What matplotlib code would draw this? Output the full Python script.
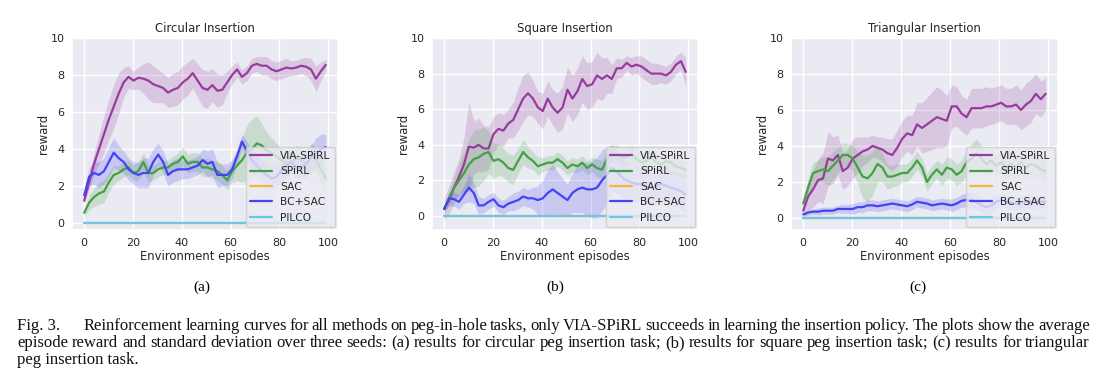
"""
Reinforcement learning curves on peg-in-hole tasks (three panels + caption)
"""
import numpy as np
import matplotlib
matplotlib.use('Agg')
import matplotlib.pyplot as plt
import seaborn as sns

# episodes (read roughly every 2 episodes off the picture)
episodes = np.linspace(0, 99, 50)

# ---- circular insertion ----
circ_via = [1.2, 2.2, 3.2, 4.0, 4.8, 5.6, 6.3, 7.0, 7.6, 7.9,
            7.7, 7.85, 7.8, 7.7, 7.5, 7.4, 7.3, 7.05, 7.2, 7.3,
            7.6, 7.8, 8.1, 7.7, 7.3, 7.2, 7.45, 7.15, 7.2, 7.6,
            8.0, 8.3, 7.9, 8.1, 8.5, 8.6, 8.5, 8.5, 8.3, 8.2,
            8.3, 8.4, 8.35, 8.4, 8.5, 8.45, 8.3, 7.8, 8.2, 8.55]
circ_via_std = [0.2, 0.4, 0.6, 0.8, 1.0, 1.1, 1.2, 1.1, 0.8, 0.6,
                0.5, 0.6, 0.8, 1.0, 1.0, 0.9, 0.8, 0.8, 0.9, 0.9,
                0.9, 0.9, 0.8, 0.9, 1.0, 1.0, 0.9, 0.9, 0.8, 0.6,
                0.5, 0.4, 0.4, 0.4, 0.4, 0.4, 0.5, 0.5, 0.5, 0.5,
                0.5, 0.5, 0.4, 0.4, 0.4, 0.5, 0.6, 0.7, 0.5, 0.3]
circ_spirl = [0.55, 1.1, 1.4, 1.6, 1.7, 2.2, 2.6, 2.7, 2.9, 3.0,
              2.7, 2.8, 3.3, 2.7, 2.7, 2.9, 3.0, 3.0, 3.2, 3.3,
              3.6, 3.2, 3.3, 3.3, 3.0, 3.0, 2.9, 2.8, 2.6, 2.3,
              2.8, 3.1, 3.4, 3.8, 4.0, 4.3, 4.2, 3.9, 3.8, 3.6,
              3.4, 3.2, 3.3, 3.5, 3.4, 3.2, 3.6, 3.4, 2.9, 2.4]
circ_spirl_std = [0.2, 0.4, 0.5, 0.6, 0.6, 0.5, 0.5, 0.4, 0.4, 0.4,
                  0.4, 0.5, 0.5, 0.5, 0.4, 0.4, 0.4, 0.4, 0.4, 0.5,
                  0.5, 0.5, 0.5, 0.5, 0.5, 0.5, 0.5, 0.5, 0.5, 0.5,
                  0.6, 0.8, 1.2, 1.5, 1.6, 1.5, 1.2, 1.0, 0.8, 0.7,
                  0.7, 0.7, 0.7, 0.7, 0.7, 0.7, 0.7, 0.7, 0.7, 0.7]
circ_bc = [1.5, 2.5, 2.7, 2.6, 2.8, 3.3, 3.8, 3.5, 3.3, 2.9,
           2.7, 2.6, 2.7, 2.7, 3.3, 3.7, 3.3, 2.6, 2.8, 2.9,
           2.9, 2.9, 3.0, 3.1, 3.4, 3.2, 3.3, 2.6, 2.6, 2.6,
           2.9, 3.6, 4.4, 3.9, 3.4, 3.1, 2.8, 2.6, 2.4, 2.5,
           2.8, 3.1, 3.3, 3.0, 3.0, 3.2, 3.5, 3.8, 4.0, 4.1]
circ_bc_std = [0.2, 0.5, 0.6, 0.7, 0.7, 0.8, 0.8, 0.7, 0.6, 0.6,
               0.6, 0.7, 0.8, 0.8, 0.7, 0.6, 0.6, 0.6, 0.6, 0.6,
               0.5, 0.5, 0.5, 0.5, 0.6, 0.7, 0.7, 0.7, 0.6, 0.6,
               0.5, 0.4, 0.4, 0.5, 0.6, 0.6, 0.6, 0.6, 0.6, 0.6,
               0.6, 0.6, 0.6, 0.6, 0.6, 0.7, 0.7, 0.8, 0.8, 0.7]

# ---- square insertion ----
square_via = [0.4, 0.9, 1.6, 2.2, 2.9, 3.9, 3.85, 4.0, 3.8, 3.8,
              4.6, 4.9, 4.8, 5.2, 5.4, 6.0, 6.6, 6.9, 6.6, 6.1,
              5.9, 6.6, 6.1, 5.8, 6.1, 7.1, 6.6, 7.0, 7.7, 7.3,
              7.4, 7.9, 7.7, 7.9, 7.7, 8.3, 8.3, 8.6, 8.4, 8.5,
              8.4, 8.2, 8.0, 8.0, 8.0, 7.9, 8.1, 8.5, 8.7, 8.1]
square_via_std = [0.6, 0.8, 0.9, 1.0, 1.5, 2.5, 1.5, 1.5, 1.3, 1.2,
                  1.0, 0.9, 0.9, 0.8, 1.0, 1.2, 1.3, 1.2, 1.0, 0.9,
                  1.0, 1.0, 1.0, 1.1, 1.2, 1.3, 1.3, 1.3, 1.3, 1.3,
                  1.3, 1.3, 1.2, 1.0, 0.8, 0.6, 0.5, 0.4, 0.5, 0.5,
                  0.6, 0.6, 0.6, 0.6, 0.5, 0.5, 0.5, 0.5, 0.5, 0.8]
square_spirl = [0.4, 1.0, 1.6, 2.0, 2.4, 2.9, 3.2, 3.3, 3.5, 3.6,
                3.1, 3.2, 3.0, 2.7, 2.6, 3.1, 3.6, 3.3, 3.1, 2.8,
                2.9, 3.0, 3.0, 3.2, 3.0, 2.7, 2.9, 2.8, 3.0, 2.7,
                2.9, 2.7, 2.6, 3.2, 3.5, 3.5, 3.3, 3.3, 3.5, 3.2,
                3.0, 3.1, 3.3, 3.0, 2.9, 3.1, 3.0, 2.8, 2.7, 2.6]
square_spirl_std = [0.2, 0.4, 0.6, 0.9, 1.2, 1.4, 1.6, 1.6, 1.5, 1.2,
                    1.0, 0.9, 0.8, 0.8, 0.8, 0.7, 0.7, 0.6, 0.5, 0.5,
                    0.4, 0.4, 0.4, 0.4, 0.4, 0.4, 0.4, 0.4, 0.4, 0.4,
                    0.4, 0.5, 0.5, 0.6, 0.5, 0.5, 0.5, 0.5, 0.5, 0.5,
                    0.5, 0.5, 0.5, 0.5, 0.5, 0.5, 0.5, 0.5, 0.5, 0.5]
square_bc = [0.4, 1.0, 0.95, 0.8, 1.2, 1.6, 1.3, 0.6, 0.6, 0.8,
             0.95, 0.6, 0.5, 0.7, 0.8, 0.9, 1.1, 1.0, 1.0, 0.9,
             1.0, 1.3, 1.5, 1.3, 1.1, 0.9, 1.3, 1.5, 1.6, 1.5,
             1.5, 1.6, 2.0, 2.3, 2.7, 2.5, 2.2, 2.0, 1.9, 1.8,
             1.8, 1.7, 1.6, 1.7, 1.8, 1.7, 1.6, 1.5, 1.4, 1.2]
square_bc_std = [0.2, 0.4, 0.4, 0.4, 0.5, 0.8, 0.6, 0.5, 0.4, 0.4,
                 0.4, 0.4, 0.4, 0.4, 0.5, 0.5, 0.5, 0.5, 0.6, 0.8,
                 1.0, 1.3, 1.4, 1.2, 1.0, 0.9, 1.1, 1.3, 1.4, 1.5,
                 1.6, 1.7, 1.7, 1.6, 1.3, 1.2, 1.1, 1.0, 1.0, 1.0,
                 1.0, 1.0, 1.0, 1.0, 1.0, 1.0, 1.0, 1.0, 1.0, 1.0]

# ---- triangular insertion ----
tri_via = [0.4, 1.2, 1.6, 2.1, 2.2, 3.3, 3.2, 3.5, 2.6, 2.8,
           3.3, 3.5, 3.7, 3.8, 4.0, 3.9, 3.8, 3.6, 3.5, 3.9,
           4.4, 4.7, 4.6, 5.2, 5.0, 5.2, 5.4, 5.6, 5.5, 5.4,
           6.2, 6.2, 5.8, 5.6, 6.1, 6.1, 6.1, 6.2, 6.2, 6.3,
           6.4, 6.2, 6.2, 6.3, 6.0, 6.3, 6.5, 6.9, 6.6, 6.9]
tri_via_std = [0.5, 0.8, 1.0, 1.2, 1.4, 1.5, 1.3, 1.1, 1.0, 1.0,
               1.1, 1.0, 0.8, 0.7, 0.6, 0.6, 0.7, 0.8, 0.9, 1.0,
               1.0, 1.0, 1.1, 1.2, 1.4, 1.5, 1.6, 1.7, 1.6, 1.4,
               1.2, 1.1, 1.0, 1.0, 1.1, 1.1, 1.1, 1.1, 1.0, 1.0,
               1.0, 1.0, 1.0, 1.1, 1.1, 1.2, 1.2, 1.1, 1.0, 0.9]
tri_spirl = [0.8, 1.7, 2.5, 2.6, 2.7, 2.6, 2.9, 3.2, 3.5, 3.5,
             3.3, 2.8, 2.3, 2.2, 2.5, 3.0, 2.8, 2.3, 2.3, 2.4,
             2.5, 2.5, 2.8, 3.2, 2.8, 2.0, 2.4, 2.7, 2.4, 2.8,
             2.7, 2.4, 2.6, 3.1, 3.3, 3.6, 3.3, 3.0, 3.2, 2.9,
             3.1, 2.8, 3.0, 2.8, 3.1, 2.8, 3.0, 2.9, 2.7, 2.6]
tri_spirl_std = [0.3, 0.5, 0.6, 0.6, 0.7, 0.8, 0.8, 0.7, 0.7, 0.6,
                 0.7, 0.9, 1.2, 1.3, 1.2, 1.0, 0.8, 0.7, 0.6, 0.6,
                 0.5, 0.5, 0.5, 0.5, 0.5, 0.5, 0.5, 0.5, 0.6, 0.6,
                 0.6, 0.6, 0.6, 0.7, 0.8, 0.8, 0.7, 0.6, 0.6, 0.6,
                 0.6, 0.6, 0.6, 0.6, 0.6, 0.6, 0.6, 0.6, 0.6, 0.6]
tri_bc = [0.2, 0.3, 0.35, 0.35, 0.4, 0.4, 0.4, 0.5, 0.5, 0.5,
          0.5, 0.6, 0.6, 0.7, 0.7, 0.65, 0.7, 0.75, 0.8, 0.75,
          0.7, 0.65, 0.75, 0.9, 0.85, 0.8, 0.7, 0.75, 0.8, 0.75,
          0.7, 0.8, 0.95, 1.0, 1.0, 0.9, 0.7, 0.6, 0.7, 0.9,
          1.0, 0.9, 0.85, 0.8, 0.85, 0.9, 0.9, 0.85, 0.9, 0.9]
tri_bc_std = [0.1, 0.15, 0.15, 0.2, 0.2, 0.2, 0.2, 0.2, 0.25, 0.25,
              0.3, 0.3, 0.3, 0.3, 0.3, 0.3, 0.3, 0.3, 0.3, 0.3,
              0.3, 0.3, 0.3, 0.3, 0.3, 0.3, 0.3, 0.3, 0.3, 0.3,
              0.35, 0.35, 0.35, 0.4, 0.4, 0.4, 0.4, 0.4, 0.4, 0.4,
              0.35, 0.35, 0.35, 0.35, 0.35, 0.35, 0.35, 0.35, 0.35, 0.35]

# SAC and PILCO stay at zero reward in all three tasks
sac_reward = [0.0] * len(episodes)
pilco_reward = [0.0] * len(episodes)

titles = ['Circular Insertion', 'Square Insertion', 'Triangular Insertion']
sublabels = ['(a)', '(b)', '(c)']
methods = ['VIA-SPiRL', 'SPiRL', 'SAC', 'BC+SAC', 'PILCO']
colors = ['#973c9d', '#45a045', '#f5b640', '#4444f2', '#6cc6e6']

caption_1a = 'Fig. 3.'
caption_1b = ('Reinforcement learning curves for all methods on peg-in-hole tasks, only '
              'VIA-SPiRL succeeds in learning the insertion policy. The plots show the average')
caption_2 = ('episode reward and standard deviation over three seeds: (a) results for circular '
             'peg insertion task; (b) results for square peg insertion task; (c) results for triangular')
caption_3 = 'peg insertion task.'

panels = [
    (circ_via, circ_via_std, circ_spirl, circ_spirl_std, circ_bc, circ_bc_std, -0.38),
    (square_via, square_via_std, square_spirl, square_spirl_std, square_bc, square_bc_std, -0.78),
    (tri_via, tri_via_std, tri_spirl, tri_spirl_std, tri_bc, tri_bc_std, -0.67),
]

sns.set_theme(style='darkgrid', font_scale=0.7)
plt.rcParams['font.family'] = ['DejaVu Sans']

W, H = 1111, 387
fig = plt.figure(figsize=(W / 100, H / 100), dpi=100)

axes_left = [72, 432, 791]
axes_width = [266, 266, 267]
label_x = [202, 555, 918]

for i, (via, via_s, spirl, spirl_s, bc, bc_s, ybottom) in enumerate(panels):
    ax = fig.add_axes([axes_left[i] / W, 1 - 230 / H, axes_width[i] / W, 192 / H])
    series = [(via, via_s), (spirl, spirl_s), (sac_reward, None), (bc, bc_s), (pilco_reward, None)]
    for (mean, std), name, c in zip(series, methods, colors):
        mean = np.array(mean)
        ax.plot(episodes, mean, color=c, linewidth=1.6, label=name)
        if std is not None:
            std = np.array(std)
            ax.fill_between(episodes, mean - std, mean + std, color=c, alpha=0.2, linewidth=0)
    ax.set_xlim(-5, 104)
    ax.set_ylim(ybottom, 10)
    ax.set_xticks([0, 20, 40, 60, 80, 100])
    ax.set_yticks([0, 2, 4, 6, 8, 10])
    ax.tick_params(axis='both', length=0, pad=5.5, labelsize=8)
    ax.set_title(titles[i], pad=4)
    ax.set_xlabel('Environment episodes', labelpad=2)
    ax.set_ylabel('reward', labelpad=0.5)
    ax.legend(loc='lower right', borderaxespad=0.3, framealpha=0.8)

    fig.text(label_x[i] / W, 1 - 287 / H, sublabels[i], ha='center', va='center',
             family='Liberation Serif', fontsize=11, color='black')


def put_justified(text, x0, x1, y, **style):
    """spread the words of one caption line evenly between x0 and x1 (pixels)"""
    renderer = fig.canvas.get_renderer()
    words = text.split(' ')
    items = [fig.text(0, 1 - y / H, w, va='center', **style) for w in words]
    widths = [t.get_window_extent(renderer).width for t in items]
    gap = (x1 - x0 - sum(widths)) / (len(words) - 1)
    x = x0
    for t, w in zip(items, widths):
        t.set_x(x / W)
        x += w + gap


cap_style = dict(family='Liberation Serif', fontsize=12, color='#111111')
fig.text(17 / W, 1 - 326 / H, caption_1a, va='center', **cap_style)
put_justified(caption_1b, 84, 1090, 326, **cap_style)
put_justified(caption_2, 17, 1090, 343, **cap_style)
fig.text(17 / W, 1 - 360 / H, caption_3, va='center', **cap_style)

plt.savefig('out.png', dpi=100)
plt.close()
